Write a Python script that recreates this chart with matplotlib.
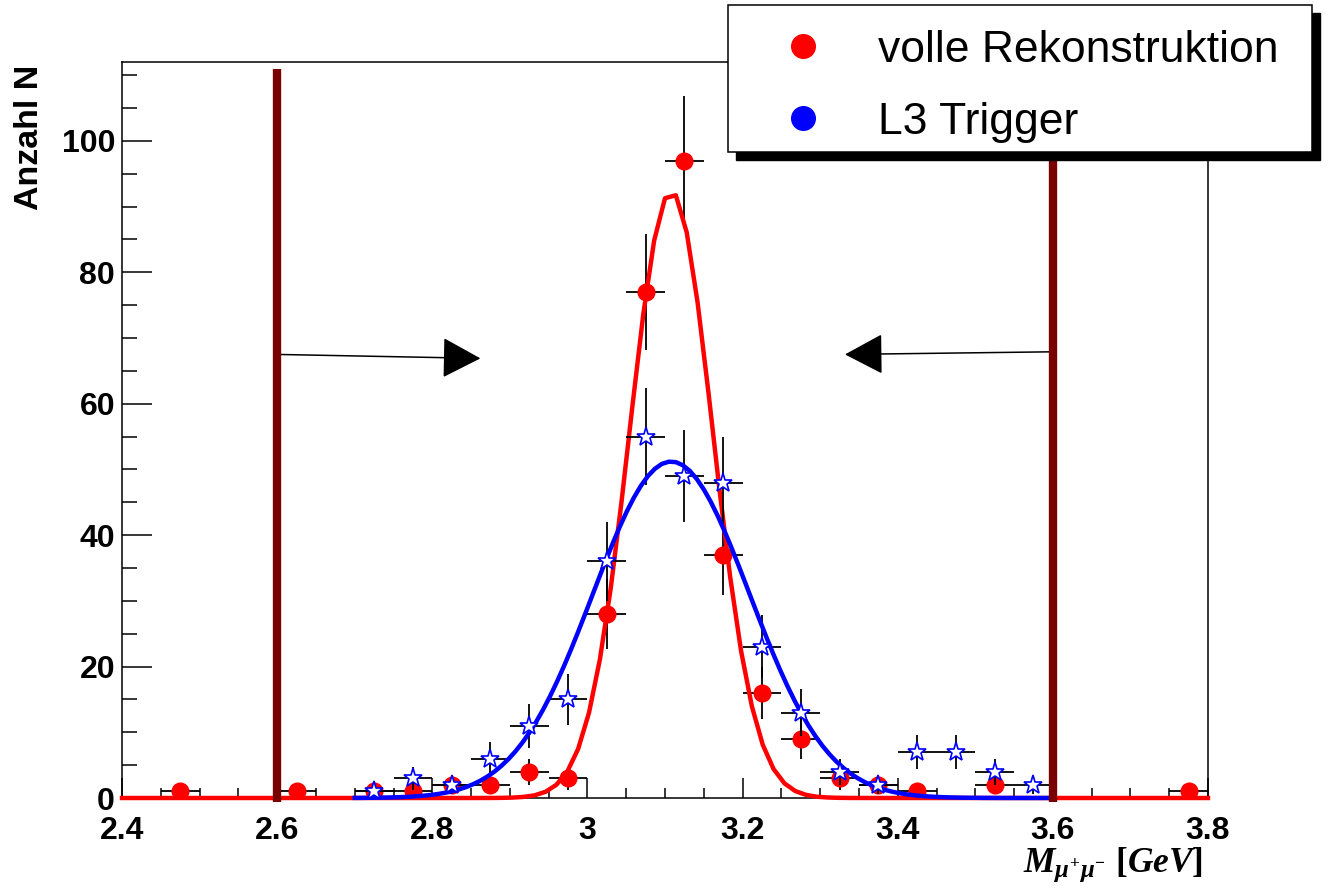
import numpy as np
import matplotlib
matplotlib.use('Agg')
import matplotlib.pyplot as plt
from matplotlib.patches import Rectangle
from matplotlib.lines import Line2D
from matplotlib.ticker import FixedLocator, MultipleLocator

# ---------------- data ----------------
reco_x = [2.475, 2.625, 2.725, 2.775, 2.825, 2.875, 2.925, 2.975, 3.025, 3.075,
          3.125, 3.175, 3.225, 3.275, 3.325, 3.375, 3.425, 3.525, 3.775]
reco_n = [1, 1, 1, 1, 2, 2, 4, 3, 28, 77, 97, 37, 16, 9, 3, 2, 1, 2, 1]

l3_x = [2.725, 2.775, 2.825, 2.875, 2.925, 2.975, 3.025, 3.075, 3.125, 3.175,
        3.225, 3.275, 3.325, 3.375, 3.425, 3.475, 3.525, 3.575]
l3_n = [1, 3, 2, 6, 11, 15, 36, 55, 49, 48, 23, 13, 4, 2, 7, 7, 4, 2]

bin_half_width = 0.025

# Gaussian fit parameters (amplitude, mean, sigma, fit range)
reco_fit = dict(amp=92.3, mean=3.108, sigma=0.0535, lo=2.4, hi=3.8)
l3_fit = dict(amp=51.2, mean=3.108, sigma=0.101, lo=2.7, hi=3.6)

cut_x = [2.6, 3.6]

x_ticks = [2.4, 2.6, 2.8, 3.0, 3.2, 3.4, 3.6, 3.8]
x_tick_labels = ['2.4', '2.6', '2.8', '3', '3.2', '3.4', '3.6', '3.8']
y_ticks = [0, 20, 40, 60, 80, 100]
y_tick_labels = ['0', '20', '40', '60', '80', '100']

legend_labels = ['volle Rekonstruktion', 'L3 Trigger']
y_label = 'Anzahl N'
x_label = r'$M_{\mu^{+}\mu^{-}}\ [GeV]$'

# ---------------- style ----------------
plt.rcParams['font.family'] = ['Liberation Sans', 'DejaVu Sans']
plt.rcParams['mathtext.fontset'] = 'custom'
plt.rcParams['mathtext.it'] = 'Liberation Serif:italic:bold'
plt.rcParams['mathtext.rm'] = 'Liberation Serif:bold'
plt.rcParams['mathtext.bf'] = 'Liberation Serif:bold'

W, H = 1336, 890
fig = plt.figure(figsize=(W / 100, H / 100), dpi=100)
ax_l, ax_r, ax_t, ax_b = 122, 1208, 62, 798
ax = fig.add_axes([ax_l / W, 1 - ax_b / H, (ax_r - ax_l) / W, (ax_b - ax_t) / H])
ax.set_xlim(2.4, 3.8)
ax.set_ylim(0, 112)

RED = '#ff0000'
BLUE = '#0000ff'
DARKRED = '#780000'


def gauss_curve(p, npx=101):
    xs = np.linspace(p['lo'], p['hi'], npx)
    return xs, p['amp'] * np.exp(-0.5 * ((xs - p['mean']) / p['sigma']) ** 2)


# red: full reconstruction
ax.errorbar(reco_x, reco_n, xerr=bin_half_width, yerr=np.sqrt(reco_n), fmt='none',
            ecolor='black', elinewidth=1.3, capsize=0, zorder=2)
ax.plot(reco_x, reco_n, 'o', color=RED, ms=12, mec=RED, zorder=3)
fx, fy = gauss_curve(reco_fit, npx=101)
ax.plot(fx, fy, '-', color=RED, lw=3.2, zorder=4, clip_on=False)

# blue: L3 trigger
ax.errorbar(l3_x, l3_n, xerr=bin_half_width, yerr=np.sqrt(l3_n), fmt='none',
            ecolor='black', elinewidth=1.3, capsize=0, zorder=5)
fx, fy = gauss_curve(l3_fit, npx=101)
ax.plot(fx, fy, '-', color=BLUE, lw=3.2, zorder=6, clip_on=False)
ax.plot(l3_x, l3_n, '*', color=BLUE, ms=14, mfc='white', mec=BLUE, mew=1.2, zorder=7)

# cut lines
for cx in cut_x:
    ax.plot([cx, cx], [-0.6, 111], '-', color=DARKRED, lw=6, solid_capstyle='butt',
            zorder=9, clip_on=False)

# arrows
arrow_kw = dict(arrowstyle='-|>,head_length=2.45,head_width=1.3', color='black',
                lw=1.1, shrinkA=0, shrinkB=0, mutation_scale=10)
ax.annotate('', xy=(2.862, 66.9), xytext=(cut_x[0], 67.5), arrowprops=arrow_kw, zorder=8)
ax.annotate('', xy=(3.332, 67.5), xytext=(cut_x[1], 67.9), arrowprops=arrow_kw, zorder=8)

# axes styling
for s in ax.spines.values():
    s.set_linewidth(1.1)
    s.set_color('black')
ax.xaxis.set_major_locator(FixedLocator(x_ticks))
ax.xaxis.set_minor_locator(MultipleLocator(0.05))
ax.set_xticklabels(x_tick_labels)
ax.yaxis.set_major_locator(FixedLocator(y_ticks))
ax.yaxis.set_minor_locator(MultipleLocator(5))
ax.set_yticklabels(y_tick_labels)
ax.tick_params(axis='x', which='major', direction='in', length=14.4, width=1.1,
               pad=13, labelsize=23, top=False)
ax.tick_params(axis='x', which='minor', direction='in', length=7.2, width=1.1, top=False)
ax.tick_params(axis='y', which='major', direction='in', length=21.6, width=1.1,
               pad=5, labelsize=23, right=False)
ax.tick_params(axis='y', which='minor', direction='in', length=10.8, width=1.1, right=False)
for lab in ax.get_xticklabels() + ax.get_yticklabels():
    lab.set_fontweight('bold')

fig.text(30 / W, 1 - 65 / H, y_label, rotation=90, ha='center', va='top',
         fontsize=24.5, fontweight='bold')
fig.text(1203 / W, 1 - 872 / H, x_label, ha='right', va='baseline', fontsize=25.5)

# legend (ROOT style with shadow)
bx0, by0, bx1, by1 = 728, 5, 1312, 152
sh = 8
fig.patches.append(Rectangle(((bx0 + sh) / W, 1 - (by1 + sh) / H), (bx1 - bx0) / W,
                             (by1 - by0) / H, transform=fig.transFigure,
                             facecolor='black', edgecolor='black', zorder=20))
fig.patches.append(Rectangle((bx0 / W, 1 - by1 / H), (bx1 - bx0) / W, (by1 - by0) / H,
                             transform=fig.transFigure, facecolor='white',
                             edgecolor='black', lw=1.1, zorder=21))
for (lab, col, yy) in [(legend_labels[0], RED, 46), (legend_labels[1], BLUE, 118)]:
    fig.add_artist(Line2D([803 / W], [1 - yy / H], marker='o', ms=17, color=col,
                          mec=col, transform=fig.transFigure, zorder=22))
    fig.text(878 / W, 1 - yy / H, lab, ha='left', va='center_baseline', fontsize=32,
             zorder=22)

fig.savefig('out.png', dpi=100)
